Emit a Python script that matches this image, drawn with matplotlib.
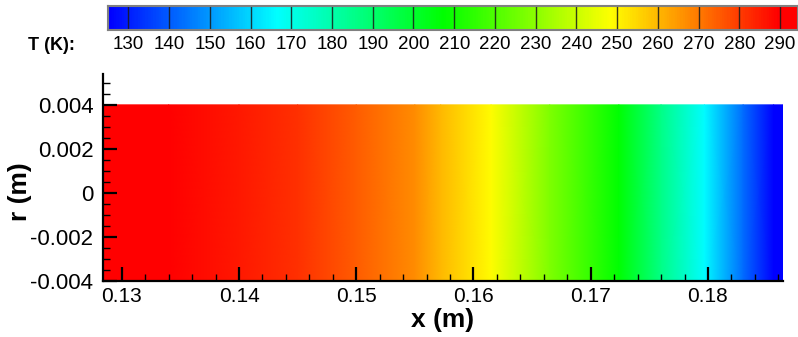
import numpy as np
import matplotlib
matplotlib.use("Agg")
import matplotlib.pyplot as plt
from matplotlib.colors import LinearSegmentedColormap, Normalize
from matplotlib.ticker import MultipleLocator

plt.rcParams["font.family"] = ["Liberation Sans", "DejaVu Sans"]

# ── data ──────────────────────────────────────────────────────
# temperature along the axis (field is uniform in r)
x_pts = [0.1284, 0.134, 0.140, 0.145, 0.150, 0.155, 0.1572, 0.1615,
         0.1665, 0.1724, 0.1760, 0.1797, 0.1830, 0.1856, 0.1864]
T_pts = [292, 290, 286, 282, 275, 267, 260, 249,
         228, 207, 186, 166, 143, 125, 123]
r_edges = [-0.004, 0.004]

cbar_levels = [130, 140, 150, 160, 170, 180, 190, 200, 210,
               220, 230, 240, 250, 260, 270, 280, 290]

T_MIN, T_MAX = 125, 290
CB_LO, CB_HI = 125, 294.4

cmap = LinearSegmentedColormap.from_list(
    "tec_rainbow", ["#0000ff", "#00ffff", "#00ff00", "#ffff00", "#ff0000"])
norm = Normalize(vmin=T_MIN, vmax=T_MAX, clip=True)

W, H = 798, 337
fig = plt.figure(figsize=(W / 100, H / 100), dpi=100)

# ── main field ────────────────────────────────────────────────
ax = fig.add_axes([103 / W, (H - 281) / H, 680 / W, 207 / H])
X, R = np.meshgrid(x_pts, r_edges)
T = np.tile(T_pts, (len(r_edges), 1))
ax.pcolormesh(X, R, T, cmap=cmap, norm=norm, shading="gouraud", zorder=1)

ax.set_xlim(0.1284, 0.1864)
ax.set_ylim(-0.004, 0.0054)
for s in ["top", "right"]:
    ax.spines[s].set_visible(False)
for s in ["left", "bottom"]:
    ax.spines[s].set_linewidth(1.6)
    ax.spines[s].set_zorder(3)

ax.xaxis.set_minor_locator(MultipleLocator(0.002))
ax.yaxis.set_minor_locator(MultipleLocator(0.0005))
ax.set_xticks([0.13, 0.14, 0.15, 0.16, 0.17, 0.18])
ax.set_xticklabels(["0.13", "0.14", "0.15", "0.16", "0.17", "0.18"])
ax.set_yticks([-0.004, -0.002, 0, 0.002, 0.004])
ax.set_yticklabels(["-0.004", "-0.002", "0", "0.002", "0.004"])

ax.tick_params(which="major", direction="in", length=10, width=1.6,
               top=False, right=False)
ax.tick_params(which="minor", direction="in", length=5, width=1,
               top=False, right=False)
ax.tick_params(axis="x", which="major", pad=4, labelsize=15)
ax.tick_params(axis="y", which="major", pad=7, labelsize=16)

ax.set_xlabel("x (m)", fontsize=19, fontweight="bold", labelpad=2)
ax.set_ylabel("r (m)", fontsize=19, fontweight="bold", va="center")
ax.yaxis.set_label_coords(-0.122, 0.43)

# ── colour legend bar ─────────────────────────────────────────
cax = fig.add_axes([108 / W, (H - 30) / H, (W - 108) / W, 24 / H])
grad = np.linspace(CB_LO, CB_HI, 600)
cax.imshow(grad[None, :], extent=[CB_LO, CB_HI, 0, 1], aspect="auto",
           cmap=cmap, norm=norm)
for lv in cbar_levels:
    cax.axvline(lv, color="#1a1a1a", lw=1, alpha=0.85)
cax.set_xlim(CB_LO, CB_HI)
cax.set_ylim(0, 1)
cax.set_xticks([])
cax.set_yticks([])
for s in cax.spines.values():
    s.set_color("#808080")
    s.set_linewidth(1.5)

for lv in cbar_levels:
    cax.text(lv, -0.62, str(lv), ha="center", va="center", fontsize=13.5,
             clip_on=False)
fig.text(51 / W, (H - 45) / H, "T (K):", ha="center", va="center",
         fontsize=13, fontweight="bold")

fig.savefig("out.png", dpi=100, facecolor="white")
